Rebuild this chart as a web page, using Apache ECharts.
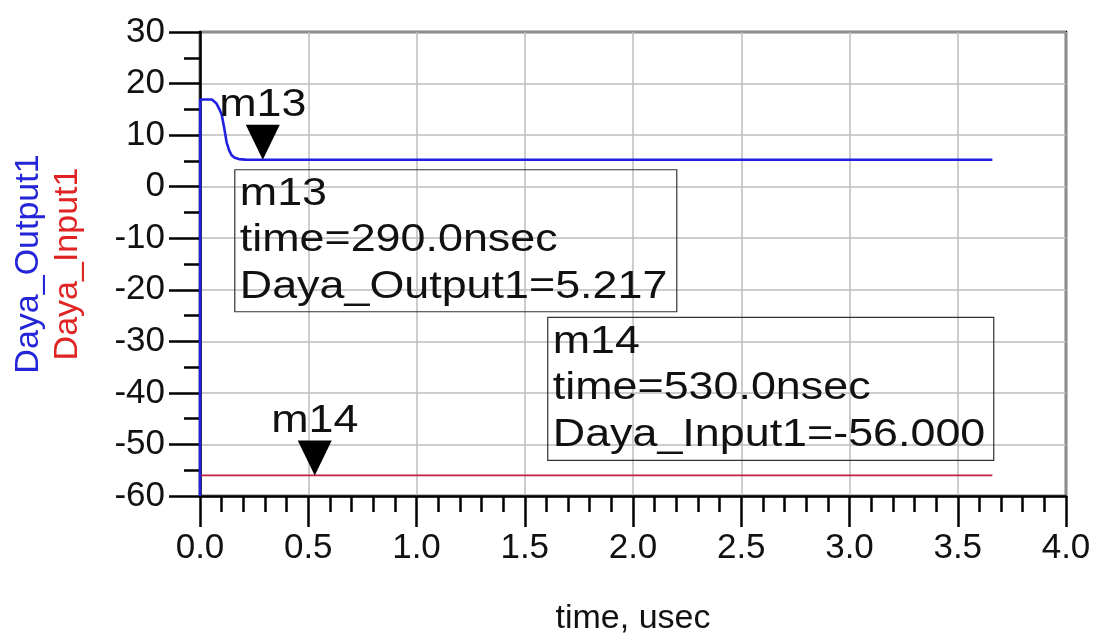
<!DOCTYPE html>
<html>
<head>
<meta charset="utf-8">
<script src="https://cdn.jsdelivr.net/npm/echarts@6/dist/echarts.min.js"></script>
<style>html,body{margin:0;padding:0;background:#fff;}#c{width:1100px;height:641px;}</style>
</head>
<body>
<div id="c"></div>
<script>
// ---- data ----
const outputTime  = [0, 0.001, 0.055, 0.075, 0.09, 0.10, 0.11, 0.123, 0.135, 0.146, 0.16, 0.18, 0.21, 0.29, 3.66];
const outputValue = [-60, 16.9, 16.9, 16.2, 15.0, 14.0, 11.8, 8.6, 7.0, 6.1, 5.6, 5.35, 5.25, 5.217, 5.217];
const inputTime   = [0, 0.53, 3.66];
const inputValue  = [-56, -56, -56];
const markerNames  = ['m13', 'm14'];
const markerTimes  = [0.29, 0.53];
const markerValues = [5.217, -56.0];
const markerSeries = ['Daya_Output1', 'Daya_Input1'];
const markerTimeText = ['290.0nsec', '530.0nsec'];
const markerValueText = ['5.217', '-56.000'];
const xTicks = [0, 4, 0.5];
const yTicks = [-60, 30, 10];

const FONT = "'Liberation Sans', Arial, sans-serif";
const SX = 1.18;

function pairs(t, v) { return t.map((x, i) => [x, v[i]]); }
function markPointFor(i) {
  return {
    symbol: 'triangle', symbolRotate: 180, symbolSize: [34, 35], symbolOffset: [0, '-50%'],
    itemStyle: { color: '#000' }, label: { show: false }, silent: true,
    data: [{ coord: [markerTimes[i], markerValues[i]] }]
  };
}

const chart = echarts.init(document.getElementById('c'), null, { renderer: 'canvas' });
const option = {
  backgroundColor: '#fff',
  animation: false,
  grid: { left: 200, right: 34, top: 32, bottom: 140, show: true, borderColor: '#000', borderWidth: 2.5, backgroundColor: 'transparent' },
  xAxis: {
    type: 'value', min: xTicks[0], max: xTicks[1], interval: xTicks[2],
    name: 'time, usec', nameLocation: 'middle', nameGap: 106,
    nameTextStyle: { fontFamily: FONT, fontSize: 34, color: '#111' },
    axisLine: { show: true, onZero: false, lineStyle: { color: '#000', width: 2.5 } },
    axisTick: { show: true, length: 31, lineStyle: { color: '#000', width: 2.5 } },
    minorTick: { show: true, splitNumber: 5, length: 16, lineStyle: { color: '#000', width: 2.5 } },
    axisLabel: { fontFamily: FONT, fontSize: 35, color: '#111', margin: 35, formatter: v => v.toFixed(1) },
    splitLine: { show: true, lineStyle: { color: '#bdbdbd', width: 1.5 } }
  },
  yAxis: {
    type: 'value', min: yTicks[0], max: yTicks[1], interval: yTicks[2],
    name: '{a|Daya_Output1}\n{b|Daya_Input1}', nameLocation: 'middle', nameRotate: 90, nameGap: 113,
    nameTextStyle: {
      fontFamily: FONT, fontSize: 34, lineHeight: 39, align: 'center',
      rich: {
        a: { fontFamily: FONT, fontSize: 34, lineHeight: 39, color: '#2424d8' },
        b: { fontFamily: FONT, fontSize: 34, lineHeight: 39, color: '#e02424' }
      }
    },
    axisLine: { show: true, onZero: false, lineStyle: { color: '#000', width: 2.5 } },
    axisTick: { show: true, length: 31, lineStyle: { color: '#000', width: 2.5 } },
    minorTick: { show: true, splitNumber: 2, length: 16, lineStyle: { color: '#000', width: 2.5 } },
    axisLabel: { fontFamily: FONT, fontSize: 35, color: '#111', margin: 35 },
    splitLine: { show: true, lineStyle: { color: '#bdbdbd', width: 1.5 } }
  },
  series: [
    {
      name: markerSeries[1], type: 'line', data: pairs(inputTime, inputValue),
      showSymbol: false, symbol: 'none', lineStyle: { color: '#c0203c', width: 1.6 },
      z: 3, markPoint: markPointFor(1)
    },
    {
      name: markerSeries[0], type: 'line', data: pairs(outputTime, outputValue),
      showSymbol: false, symbol: 'none', lineStyle: { color: '#2020e0', width: 2.6 },
      z: 4, markPoint: markPointFor(0)
    }
  ]
};
chart.setOption(option);

function textEl(x, y, str, align) {
  return {
    type: 'text', x: x, y: y, scaleX: SX, z: 100,
    style: { text: str, fontFamily: FONT, fontSize: 38, fill: '#111', align: align, verticalAlign: 'middle' }
  };
}

function buildAnnotations() {
  const els = [];
  // box offsets relative to marker tip: [left, top, width, height]
  const boxRel = [[-28, 10, 442, 142], [233, -158, 446, 143]];
  for (let i = 0; i < markerNames.length; i++) {
    const p = chart.convertToPixel({ gridIndex: 0 }, [markerTimes[i], markerValues[i]]);
    // marker name above triangle
    els.push(textEl(p[0], p[1] - 54, markerNames[i], 'center'));
    const b = boxRel[i];
    const bx = p[0] + b[0], by = p[1] + b[1];
    els.push({ type: 'rect', z: 99, shape: { x: bx, y: by, width: b[2], height: b[3] },
      style: { fill: 'none', stroke: '#333', lineWidth: 1.2 } });
    const lines = [markerNames[i], 'time=' + markerTimeText[i], markerSeries[i] + '=' + markerValueText[i]];
    const base = [37, 83, 130];
    lines.forEach((s, k) => els.push(textEl(bx + 5, by + base[k] - 12, s, 'left')));
  }
  chart.setOption({ graphic: { elements: els } });
}
buildAnnotations();
</script>
</body>
</html>
